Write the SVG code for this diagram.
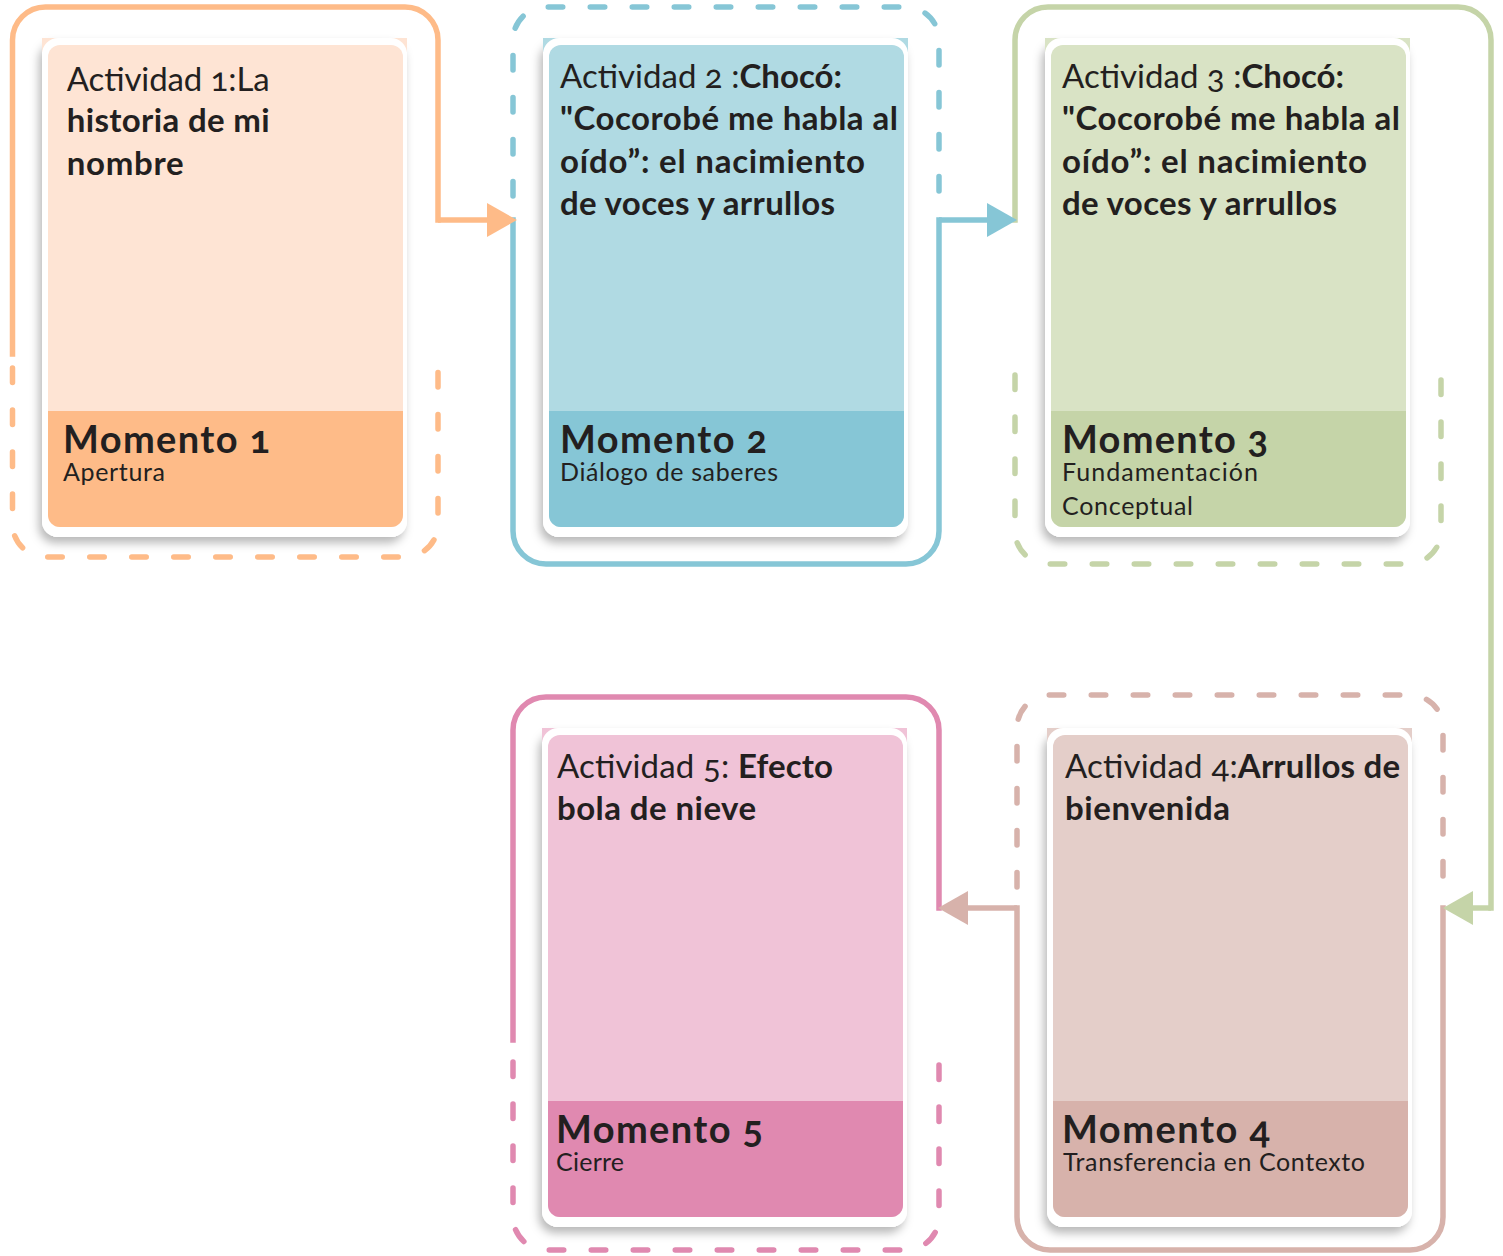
<svg xmlns="http://www.w3.org/2000/svg" width="1503" height="1256" viewBox="0 0 1503 1256">
<defs>
<style>
.t{font-family:Lato,"Noto Sans","Liberation Sans",sans-serif;fill:#231F20;font-variant-numeric:oldstyle-nums;}
.body{font-size:33px;}
.b{font-weight:700;}
.title{font-size:38px;font-weight:700;}
.sub{font-size:25px;}
.solid{fill:none;stroke-width:5.5;stroke-linecap:square;}
.dash{fill:none;stroke-width:5.5;stroke-linecap:round;stroke-dasharray:14.5 27.5;}
.conn{fill:none;stroke-width:5.5;}
.card{fill:#FFFFFF;}
</style>
<filter id="sh" x="-10%" y="-8%" width="120%" height="120%">
<feDropShadow dx="-3" dy="6" stdDeviation="5" flood-color="#000000" flood-opacity="0.28"/>
</filter>
<marker id="aO" markerUnits="userSpaceOnUse" markerWidth="30" markerHeight="34" viewBox="0 0 30 34" refX="1" refY="17" orient="auto"><path d="M0,0 L30,17 L0,34 Z" fill="#FEBB88"/></marker>
<marker id="aB" markerUnits="userSpaceOnUse" markerWidth="30" markerHeight="34" viewBox="0 0 30 34" refX="1" refY="17" orient="auto"><path d="M0,0 L30,17 L0,34 Z" fill="#86C6D6"/></marker>
<marker id="aG" markerUnits="userSpaceOnUse" markerWidth="30" markerHeight="34" viewBox="0 0 30 34" refX="1" refY="17" orient="auto"><path d="M0,0 L30,17 L0,34 Z" fill="#C5D4A8"/></marker>
<marker id="aR" markerUnits="userSpaceOnUse" markerWidth="30" markerHeight="34" viewBox="0 0 30 34" refX="1" refY="17" orient="auto"><path d="M0,0 L30,17 L0,34 Z" fill="#D7B2AB"/></marker>
</defs>
<rect width="1503" height="1256" fill="#FFFFFF"/>

<g id="momento1">
<path class="solid" stroke="#FEBB88" d="M12.5,354 V40 A33,33 0 0 1 45.5,7 H405 A33,33 0 0 1 438,40 V220"/>
<path class="dash" stroke="#FEBB88" d="M12.5,368 V524 A33,33 0 0 0 45.5,557 H405 A33,33 0 0 0 438,524 V368"/>
<rect class="card" x="42" y="38" width="365" height="499" rx="16" filter="url(#sh)"/>
<rect x="42" y="38" width="365" height="14" fill="#FEE4D4"/>
<rect class="card" x="42" y="38" width="365" height="499" rx="16"/>
<rect x="48" y="45" width="355" height="482" rx="12" fill="#FEE4D4"/>
<path d="M48,411 H403 V515 A12,12 0 0 1 391,527 H60 A12,12 0 0 1 48,515 Z" fill="#FEBB88"/>
<text class="t body" x="66.7" y="90.7" textLength="203">Actividad 1:La</text>
<text class="t body b" x="66.7" y="132" textLength="203">historia de mi</text>
<text class="t body b" x="66.7" y="175" textLength="117">nombre</text>
<text class="t title" x="63" y="453" textLength="207">Momento 1</text>
<text class="t sub" x="63" y="481" textLength="102">Apertura</text>
</g>

<g id="momento2">
<path class="dash" stroke="#86C6D6" d="M513,196 V40 A33,33 0 0 1 546,7 H906 A33,33 0 0 1 939,40 V196"/>
<path class="solid" stroke="#86C6D6" d="M513,220 V531 A33,33 0 0 0 546,564 H906 A33,33 0 0 0 939,531 V220"/>
<rect class="card" x="543" y="38" width="365" height="499" rx="16" filter="url(#sh)"/>
<rect x="543" y="38" width="365" height="14" fill="#B0DAE3"/>
<rect class="card" x="543" y="38" width="365" height="499" rx="16"/>
<rect x="549" y="45" width="355" height="482" rx="12" fill="#B0DAE3"/>
<path d="M549,411 H904 V515 A12,12 0 0 1 892,527 H561 A12,12 0 0 1 549,515 Z" fill="#86C6D6"/>
<text class="t body" x="560" y="88" textLength="282">Actividad 2 :<tspan class="b">Chocó:</tspan></text>
<text class="t body b" x="560" y="130" textLength="338">"Cocorobé me habla al</text>
<text class="t body b" x="560" y="172.5" textLength="305">oído”: el nacimiento</text>
<text class="t body b" x="560" y="215" textLength="275">de voces y arrullos</text>
<text class="t title" x="560" y="453" textLength="207">Momento 2</text>
<text class="t sub" x="560" y="481" textLength="218">Diálogo de saberes</text>
</g>

<g id="momento3">
<path class="solid" stroke="#C5D4A8" d="M1015,220 V40 A33,33 0 0 1 1048,7 H1458 A33,33 0 0 1 1491,40 V908"/>
<path class="dash" stroke="#C5D4A8" d="M1015,375 V531 A33,33 0 0 0 1048,564 H1408 A33,33 0 0 0 1441,531 V375"/>
<rect class="card" x="1045" y="38" width="365" height="499" rx="16" filter="url(#sh)"/>
<rect x="1045" y="38" width="365" height="14" fill="#D9E3C5"/>
<rect class="card" x="1045" y="38" width="365" height="499" rx="16"/>
<rect x="1051" y="45" width="355" height="482" rx="12" fill="#D9E3C5"/>
<path d="M1051,411 H1406 V515 A12,12 0 0 1 1394,527 H1063 A12,12 0 0 1 1051,515 Z" fill="#C5D4A8"/>
<text class="t body" x="1062" y="88" textLength="282">Actividad 3 :<tspan class="b">Chocó:</tspan></text>
<text class="t body b" x="1062" y="130" textLength="338">"Cocorobé me habla al</text>
<text class="t body b" x="1062" y="172.5" textLength="305">oído”: el nacimiento</text>
<text class="t body b" x="1062" y="215" textLength="275">de voces y arrullos</text>
<text class="t title" x="1062" y="453" textLength="206">Momento 3</text>
<text class="t sub" x="1062" y="481" textLength="196">Fundamentación</text>
<text class="t sub" x="1062" y="515" textLength="131">Conceptual</text>
</g>

<g id="momento4">
<path class="dash" stroke="#D7B2AB" d="M1017,887 V728 A33,33 0 0 1 1050,695 H1410 A33,33 0 0 1 1443,728 V887"/>
<path class="solid" stroke="#D7B2AB" d="M1443,908 V1217 A33,33 0 0 1 1410,1250 H1050 A33,33 0 0 1 1017,1217 V908"/>
<rect class="card" x="1047" y="728" width="365" height="499" rx="16" filter="url(#sh)"/>
<rect x="1047" y="728" width="365" height="14" fill="#E4CEC9"/>
<rect class="card" x="1047" y="728" width="365" height="499" rx="16"/>
<rect x="1053" y="735" width="355" height="482" rx="12" fill="#E4CEC9"/>
<path d="M1053,1101 H1408 V1205 A12,12 0 0 1 1396,1217 H1065 A12,12 0 0 1 1053,1205 Z" fill="#D7B2AB"/>
<text class="t body" x="1065" y="778" textLength="335">Actividad 4:<tspan class="b">Arrullos de</tspan></text>
<text class="t body b" x="1065" y="820" textLength="165">bienvenida</text>
<text class="t title" x="1062" y="1143" textLength="208">Momento 4</text>
<text class="t sub" x="1063" y="1171" textLength="302">Transferencia en Contexto</text>
</g>

<g id="momento5">
<path class="solid" stroke="#E089B0" d="M513,1040 V730 A33,33 0 0 1 546,697 H906 A33,33 0 0 1 939,730 V908"/>
<path class="dash" stroke="#E089B0" d="M513,1062 V1217 A33,33 0 0 0 546,1250 H906 A33,33 0 0 0 939,1217 V1062"/>
<rect class="card" x="542" y="728" width="365" height="499" rx="16" filter="url(#sh)"/>
<rect x="542" y="728" width="365" height="14" fill="#F0C3D7"/>
<rect class="card" x="542" y="728" width="365" height="499" rx="16"/>
<rect x="548" y="735" width="355" height="482" rx="12" fill="#F0C3D7"/>
<path d="M548,1101 H903 V1205 A12,12 0 0 1 891,1217 H560 A12,12 0 0 1 548,1205 Z" fill="#E089B0"/>
<text class="t body" x="557" y="778" textLength="276">Actividad 5: <tspan class="b">Efecto</tspan></text>
<text class="t body b" x="557" y="820" textLength="199">bola de nieve</text>
<text class="t title" x="556" y="1143" textLength="207">Momento 5</text>
<text class="t sub" x="556" y="1171" textLength="68">Cierre</text>
</g>

<g id="connectors">
<path class="conn" stroke="#FEBB88" d="M438,220 H488" marker-end="url(#aO)"/>
<path class="conn" stroke="#86C6D6" d="M939,220 H988" marker-end="url(#aB)"/>
<path class="conn" stroke="#C5D4A8" d="M1491,908 H1472" marker-end="url(#aG)"/>
<path class="conn" stroke="#D7B2AB" d="M1017,908 H967" marker-end="url(#aR)"/>
</g>
</svg>
